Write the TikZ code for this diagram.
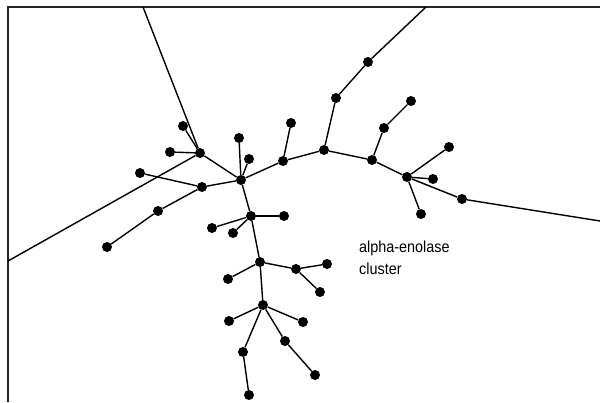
\documentclass[tikz,border=0pt]{standalone}
\usepackage{fontspec}
\newfontfamily\labfont{Liberation Sans}
\begin{document}
\begin{tikzpicture}[x=1pt,y=-1pt,
  dot/.style={circle,fill=black,inner sep=0pt,minimum size=10pt},
  edge/.style={line width=1.4pt,black},
  frame/.style={line width=1.6pt,black!85}]
\useasboundingbox (0,0) rectangle (600,402);
\fill[white] (0,0) rectangle (600,402);
% frame
\draw[frame] (8,402) -- (8,7) -- (600,7);
% border points
\coordinate (topA) at (143,7);
\coordinate (leftA) at (8,261);
\coordinate (topN) at (426,7);
\coordinate (rightR) at (600,221);
% nodes
\node[dot] (A) at (200,153) {};
\node[dot] (A1) at (183,126) {};
\node[dot] (A2) at (170,152) {};
\node[dot] (B) at (241,180) {};
\node[dot] (B1) at (239,138) {};
\node[dot] (B2) at (249,159) {};
\node[dot] (C) at (283,161) {};
\node[dot] (C1) at (291,123) {};
\node[dot] (D) at (202,187) {};
\node[dot] (D1) at (140,173) {};
\node[dot] (E) at (158,211) {};
\node[dot] (E1) at (107,247) {};
\node[dot] (F) at (251,216) {};
\node[dot] (F1) at (284,216) {};
\node[dot] (F2) at (212,228) {};
\node[dot] (F3) at (233,233) {};
\node[dot] (G) at (260,262) {};
\node[dot] (G1) at (228,279) {};
\node[dot] (H) at (296,269) {};
\node[dot] (H1) at (327,264) {};
\node[dot] (H2) at (320,292) {};
\node[dot] (I) at (263,305) {};
\node[dot] (I1) at (229,321) {};
\node[dot] (I2) at (303,322) {};
\node[dot] (J) at (285,341) {};
\node[dot] (J1) at (315,375) {};
\node[dot] (K) at (243,352) {};
\node[dot] (K1) at (249,395) {};
\node[dot] (L) at (324,150) {};
\node[dot] (M) at (336,98) {};
\node[dot] (N) at (368,62) {};
\node[dot] (O) at (372,160) {};
\node[dot] (P) at (384,128) {};
\node[dot] (P1) at (411,101) {};
\node[dot] (Q) at (407,177) {};
\node[dot] (Q1) at (449,147) {};
\node[dot] (Q2) at (433,179) {};
\node[dot] (Q3) at (421,214) {};
\node[dot] (R) at (462,199) {};
% edges
\draw[edge] (A) -- (topA);
\draw[edge] (A) -- (leftA);
\draw[edge] (A) -- (A1);
\draw[edge] (A) -- (A2);
\draw[edge] (A) -- (B);
\draw[edge] (B) -- (B1);
\draw[edge] (B) -- (B2);
\draw[edge] (B) -- (C);
\draw[edge] (C) -- (C1);
\draw[edge] (B) -- (D);
\draw[edge] (D) -- (D1);
\draw[edge] (D) -- (E);
\draw[edge] (E) -- (E1);
\draw[edge] (B) -- (F);
\draw[edge] (F) -- (F1);
\draw[edge] (F) -- (F2);
\draw[edge] (F) -- (F3);
\draw[edge] (F) -- (G);
\draw[edge] (G) -- (G1);
\draw[edge] (G) -- (H);
\draw[edge] (H) -- (H1);
\draw[edge] (H) -- (H2);
\draw[edge] (G) -- (I);
\draw[edge] (I) -- (I1);
\draw[edge] (I) -- (I2);
\draw[edge] (I) -- (J);
\draw[edge] (J) -- (J1);
\draw[edge] (I) -- (K);
\draw[edge] (K) -- (K1);
\draw[edge] (C) -- (L);
\draw[edge] (L) -- (M);
\draw[edge] (M) -- (N);
\draw[edge] (N) -- (topN);
\draw[edge] (L) -- (O);
\draw[edge] (O) -- (P);
\draw[edge] (P) -- (P1);
\draw[edge] (O) -- (Q);
\draw[edge] (Q) -- (Q1);
\draw[edge] (Q) -- (Q2);
\draw[edge] (Q) -- (Q3);
\draw[edge] (Q) -- (R);
\draw[edge] (R) -- (rightR);
% label
\node[anchor=north west,inner sep=0pt,align=left,xscale=0.9,
  font=\labfont\fontsize{16}{22}\selectfont] (lab) at (359,241)
  {alpha-enolase\\cluster};
\end{tikzpicture}
\end{document}
